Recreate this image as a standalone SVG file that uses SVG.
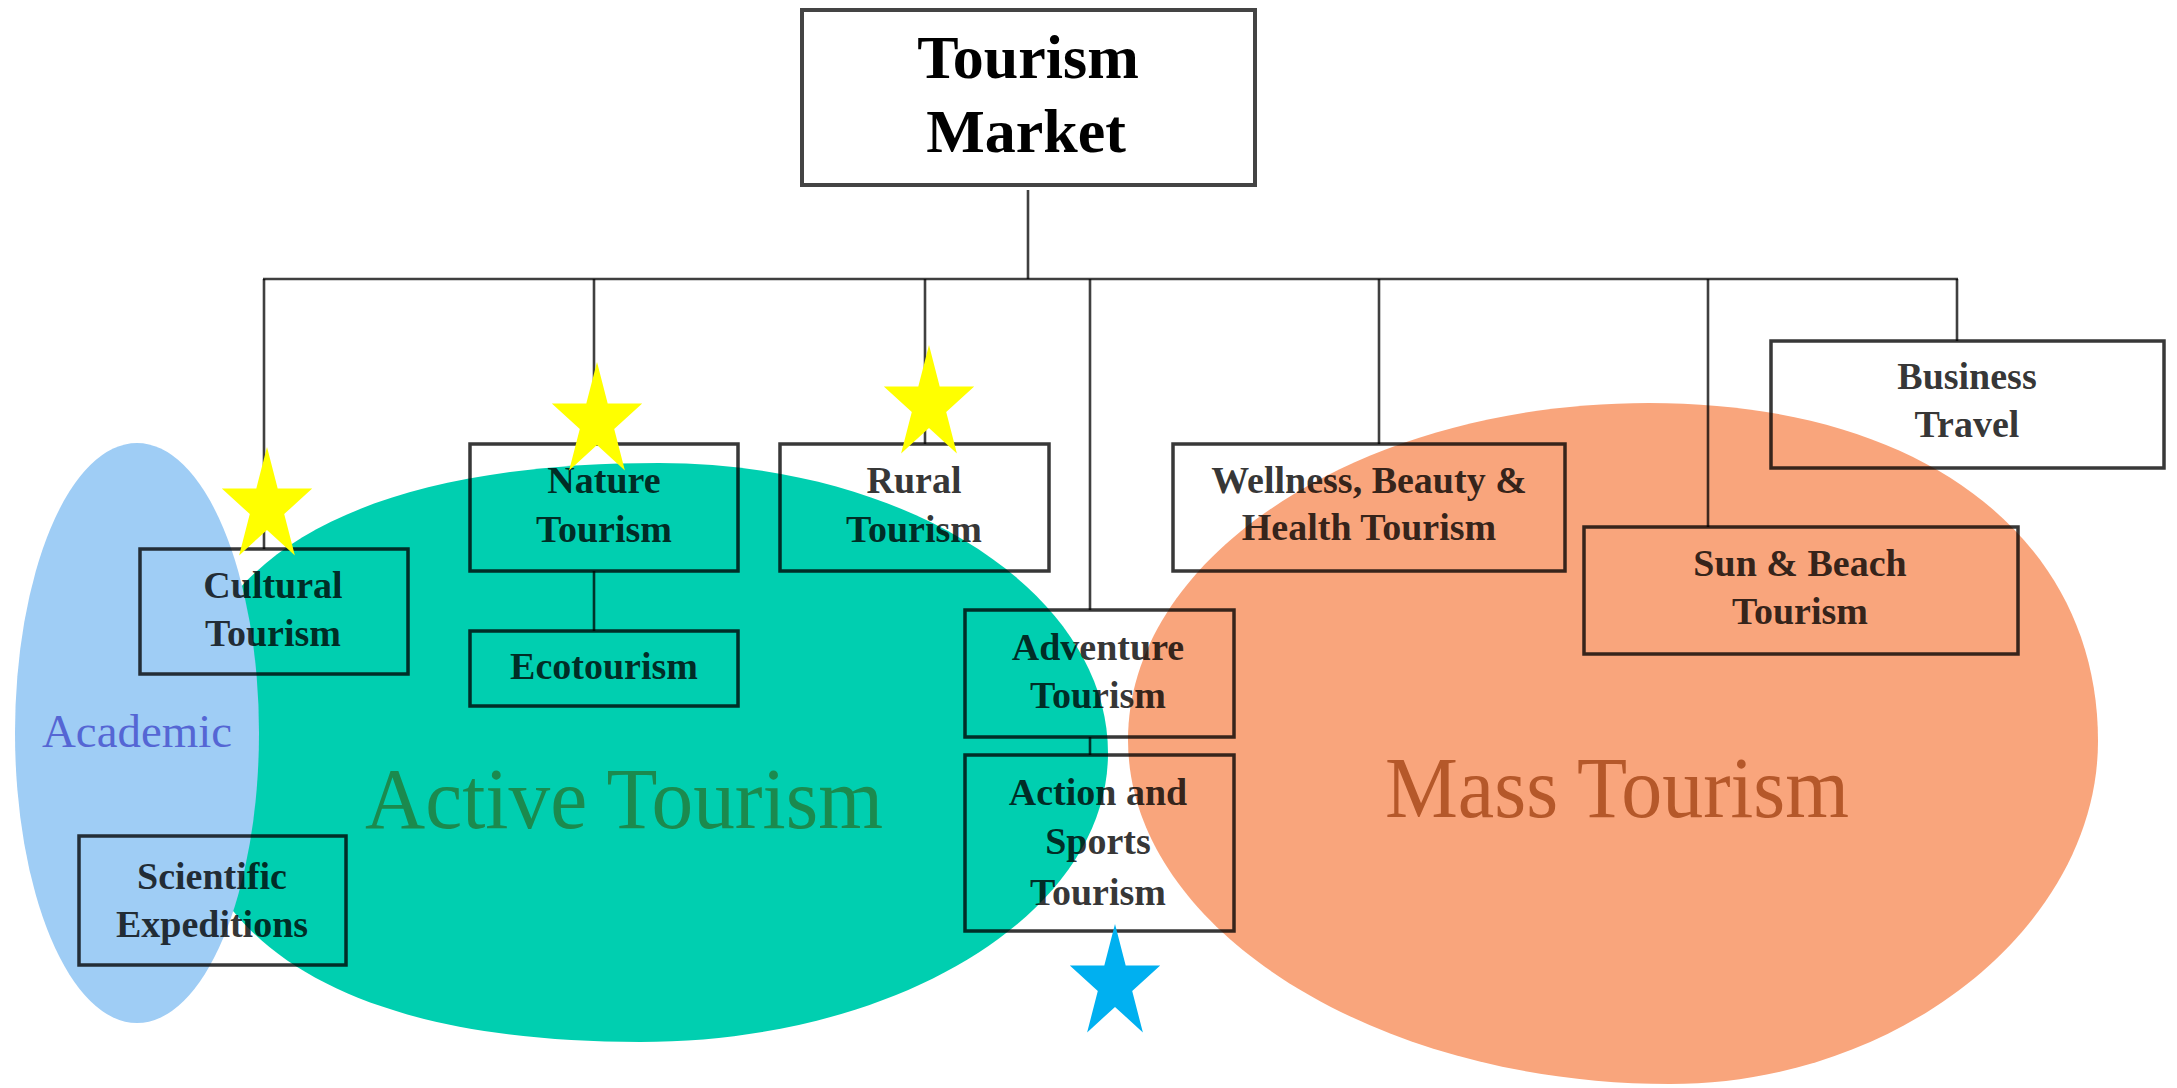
<svg xmlns="http://www.w3.org/2000/svg" xmlns:xlink="http://www.w3.org/1999/xlink" width="2177" height="1088" viewBox="0 0 2177 1088">
<style>
.box{fill:none;stroke:#000;stroke-opacity:0.78;stroke-width:3.5}
.top{fill:none;stroke:#444;stroke-width:4}
.lbl{font-family:"Liberation Serif","Times New Roman",serif;font-weight:bold;font-size:38px;fill:#000;fill-opacity:0.8;text-anchor:middle}
.conn line{stroke:#000;stroke-opacity:0.75;stroke-width:2.6}
.big{font-family:"Liberation Serif","Times New Roman",serif;text-anchor:middle}
</style>
<defs>
<path id="star" d="M0,-60 L10.7,-18.5 L45.2,-18.5 L17.2,7.1 L27.9,48.5 L0,22.9 L-27.9,48.5 L-17.2,7.1 L-45.2,-18.5 L-10.7,-18.5 Z"/>
</defs>
<rect width="2177" height="1088" fill="#fff"/>
<g id="regions">
<path id="active-region" fill="#00cfb0" d="M659,463 C907,463 1108,593 1108,753 C1108,913 898,1042 640,1042 C341,1042 180,940 180,752 C180,564 348,463 659,463 Z"/>
<ellipse id="academic-region" cx="137" cy="733" rx="122" ry="290" fill="#9fcdf5"/>
<path id="mass-region" fill="#f9a57c" d="M1649,403 C1927,403 2098,541 2098,741 C2098,925 1900,1084 1670,1084 C1376,1084 1128,929 1128,740 C1128,555 1362,403 1649,403 Z"/>
<text class="big" x="137" y="747" font-size="46" fill="#5566d4" textLength="190" lengthAdjust="spacingAndGlyphs">Academic</text>
<text class="big" x="624" y="828" font-size="86" fill="#1b8a4e" textLength="518" lengthAdjust="spacingAndGlyphs">Active Tourism</text>
<text class="big" x="1617" y="817" font-size="86" fill="#b5582a" textLength="464" lengthAdjust="spacingAndGlyphs">Mass Tourism</text>
</g>
<g id="connectors" class="conn">
<line x1="1028" y1="190" x2="1028" y2="279"/>
<line x1="263" y1="279" x2="1958" y2="279"/>
<line x1="264" y1="279" x2="264" y2="549"/>
<line x1="594" y1="279" x2="594" y2="444"/>
<line x1="925" y1="279" x2="925" y2="444"/>
<line x1="1090" y1="279" x2="1090" y2="610"/>
<line x1="1379" y1="279" x2="1379" y2="444"/>
<line x1="1708" y1="279" x2="1708" y2="527"/>
<line x1="1957" y1="279" x2="1957" y2="341"/>
<line x1="594" y1="571" x2="594" y2="631"/>
<line x1="1090" y1="737" x2="1090" y2="755"/>
</g>
<g id="tourism-market">
<rect class="top" x="802" y="10" width="453" height="175"/>
<text class="big" x="1028" y="78" font-size="62" font-weight="bold" fill="#000">Tourism</text>
<text class="big" x="1026" y="152" font-size="62" font-weight="bold" fill="#000">Market</text>
</g>
<g id="cultural-tourism">
<rect class="box" x="140" y="549" width="268" height="125"/>
<text class="lbl" x="273" y="598">Cultural</text>
<text class="lbl" x="273" y="646">Tourism</text>
</g>
<g id="nature-tourism">
<rect class="box" x="470" y="444" width="268" height="127"/>
<text class="lbl" x="604" y="493">Nature</text>
<text class="lbl" x="604" y="542">Tourism</text>
</g>
<g id="ecotourism">
<rect class="box" x="470" y="631" width="268" height="75"/>
<text class="lbl" x="604" y="679">Ecotourism</text>
</g>
<g id="rural-tourism">
<rect class="box" x="780" y="444" width="269" height="127"/>
<text class="lbl" x="914" y="493">Rural</text>
<text class="lbl" x="914" y="542">Tourism</text>
</g>
<g id="scientific-expeditions">
<rect class="box" x="79" y="836" width="267" height="129"/>
<text class="lbl" x="212" y="889">Scientific</text>
<text class="lbl" x="212" y="937">Expeditions</text>
</g>
<g id="adventure-tourism">
<rect class="box" x="965" y="610" width="269" height="127"/>
<text class="lbl" x="1098" y="660">Adventure</text>
<text class="lbl" x="1098" y="708">Tourism</text>
</g>
<g id="action-sports-tourism">
<rect class="box" x="965" y="755" width="269" height="176"/>
<text class="lbl" x="1098" y="805">Action and</text>
<text class="lbl" x="1098" y="854">Sports</text>
<text class="lbl" x="1098" y="905">Tourism</text>
</g>
<g id="wellness-tourism">
<rect class="box" x="1173" y="444" width="392" height="127"/>
<text class="lbl" x="1369" y="493">Wellness, Beauty &amp;</text>
<text class="lbl" x="1369" y="540">Health Tourism</text>
</g>
<g id="sun-beach-tourism">
<rect class="box" x="1584" y="527" width="434" height="127"/>
<text class="lbl" x="1800" y="576">Sun &amp; Beach</text>
<text class="lbl" x="1800" y="624">Tourism</text>
</g>
<g id="business-travel">
<rect class="box" x="1771" y="341" width="393" height="127"/>
<text class="lbl" x="1967" y="389">Business</text>
<text class="lbl" x="1967" y="437">Travel</text>
</g>
<g id="stars">
<use xlink:href="#star" x="267" y="507" fill="#ffff00"/>
<use xlink:href="#star" x="597" y="422" fill="#ffff00"/>
<use xlink:href="#star" x="929" y="405" fill="#ffff00"/>
<use xlink:href="#star" x="1115" y="984" fill="#00b0f0"/>
</g>
</svg>
